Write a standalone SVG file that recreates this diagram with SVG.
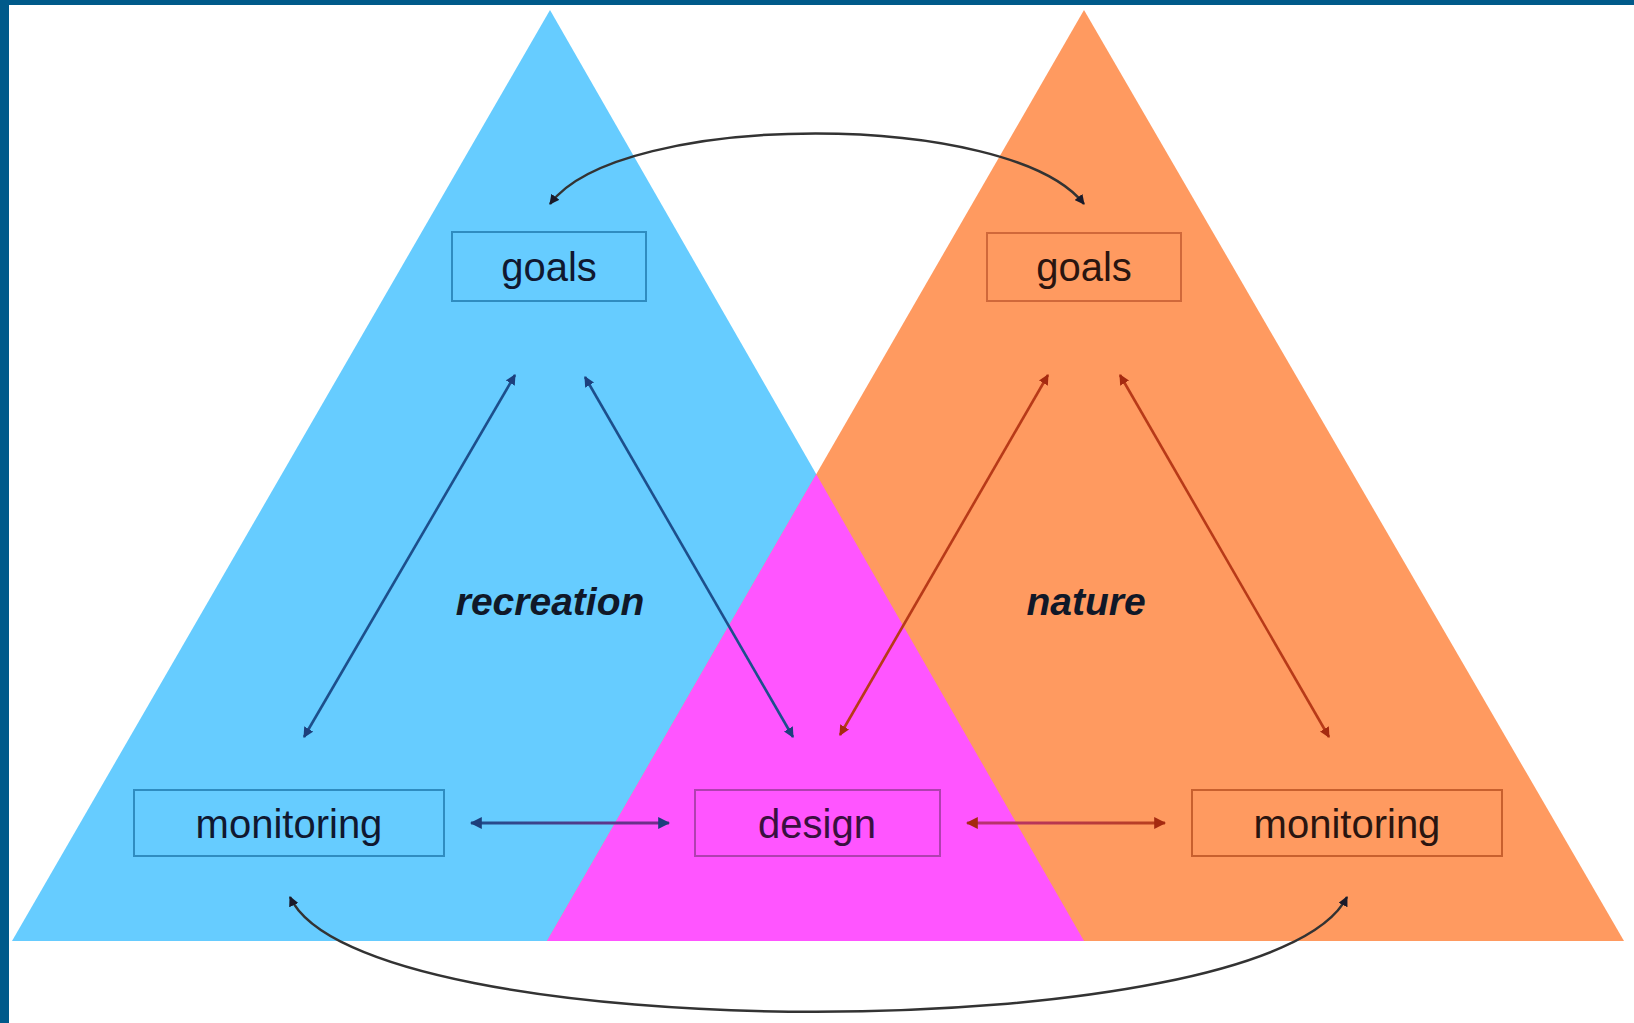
<svg xmlns="http://www.w3.org/2000/svg" width="1634" height="1023" viewBox="0 0 1634 1023">
<defs>
<style>
.box{stroke-width:2}
.lbl{font-family:"Liberation Sans",Arial,sans-serif;font-size:40px;text-anchor:middle}
.big{font-family:"Liberation Sans",Arial,sans-serif;font-size:39px;font-weight:bold;font-style:italic;text-anchor:middle;fill:#101828}
.cb{stroke:#1d4f8c;stroke-width:2.6;fill:none}
.cr{stroke:#b83a18;stroke-width:2.6;fill:none}
.ck{stroke:#333;stroke-width:2.5;fill:none}
</style>
<marker id="ab" viewBox="0 0 10 10" refX="9" refY="5" markerWidth="4" markerHeight="4" orient="auto-start-reverse"><path d="M0,0 L10,5 L0,10 z" fill="#1d3f7c"/></marker>
<marker id="ar" viewBox="0 0 10 10" refX="9" refY="5" markerWidth="4" markerHeight="4" orient="auto-start-reverse"><path d="M0,0 L10,5 L0,10 z" fill="#a52a10"/></marker>
<marker id="ak" viewBox="0 0 10 10" refX="9" refY="5" markerWidth="4" markerHeight="4" orient="auto-start-reverse"><path d="M0,0 L10,5 L0,10 z" fill="#1a1a2a"/></marker>
<linearGradient id="gb" gradientUnits="userSpaceOnUse" x1="471" y1="0" x2="669" y2="0"><stop offset="0" stop-color="#1d4f8c"/><stop offset="1" stop-color="#7a2a8a"/></linearGradient>
<linearGradient id="gr" gradientUnits="userSpaceOnUse" x1="967" y1="0" x2="1165" y2="0"><stop offset="0" stop-color="#b8307a"/><stop offset="1" stop-color="#b84018"/></linearGradient>
<clipPath id="clipBlue"><polygon points="550,10 12,941 1084,941"/></clipPath>
</defs>
<rect width="1634" height="1023" fill="#005a8a"/>
<rect x="9" y="5" width="1625" height="1018" fill="#ffffff"/>
<g id="triangles">
<polygon id="tri-recreation" points="550,10 12,941 1084,941" fill="#66ccff"/>
<polygon id="tri-nature" points="1084,10 547,941 1624,941" fill="#ff9a60"/>
<polygon id="tri-overlap" points="1084,10 547,941 1624,941" fill="#ff55ff" clip-path="url(#clipBlue)"/>
</g>
<g id="connectors">
<line class="cb" x1="304" y1="737" x2="515" y2="375" marker-start="url(#ab)" marker-end="url(#ab)"/>
<line class="cb" x1="585" y1="377" x2="793" y2="737" marker-start="url(#ab)" marker-end="url(#ab)"/>
<line class="cr" x1="840" y1="735" x2="1048" y2="375" marker-start="url(#ar)" marker-end="url(#ar)"/>
<line class="cr" x1="1120" y1="375" x2="1329" y2="737" marker-start="url(#ar)" marker-end="url(#ar)"/>
<path d="M471,823 L669,823" stroke="url(#gb)" stroke-width="3" fill="none" marker-start="url(#ab)" marker-end="url(#ab)"/>
<path d="M967,823 L1165,823" stroke="url(#gr)" stroke-width="3" fill="none" marker-start="url(#ar)" marker-end="url(#ar)"/>
<path class="ck" d="M550,204 C620,110 1010,110 1084,204" marker-start="url(#ak)" marker-end="url(#ak)"/>
<path class="ck" d="M290,897 C360,1050 1270,1050 1347,897" marker-start="url(#ak)" marker-end="url(#ak)"/>
</g>
<g id="node-goals-recreation">
<rect class="box" x="452" y="232" width="194" height="69" fill="none" stroke="#2f8cc0"/>
<text class="lbl" x="549" y="281" fill="#101830">goals</text>
</g>
<g id="node-goals-nature">
<rect class="box" x="987" y="233" width="194" height="68" fill="none" stroke="#d0683a"/>
<text class="lbl" x="1084" y="281" fill="#2a1510">goals</text>
</g>
<g id="node-monitoring-recreation">
<rect class="box" x="134" y="790" width="310" height="66" fill="none" stroke="#2f8cc0"/>
<text class="lbl" x="289" y="838" fill="#101830">monitoring</text>
</g>
<g id="node-design">
<rect class="box" x="695" y="790" width="245" height="66" fill="none" stroke="#b040b0"/>
<text class="lbl" x="817" y="838" fill="#3a1040">design</text>
</g>
<g id="node-monitoring-nature">
<rect class="box" x="1192" y="790" width="310" height="66" fill="none" stroke="#c8602e"/>
<text class="lbl" x="1347" y="838" fill="#2a1510">monitoring</text>
</g>
<g id="label-recreation"><text class="big" x="550" y="615">recreation</text></g>
<g id="label-nature"><text class="big" x="1086" y="615">nature</text></g>
</svg>
